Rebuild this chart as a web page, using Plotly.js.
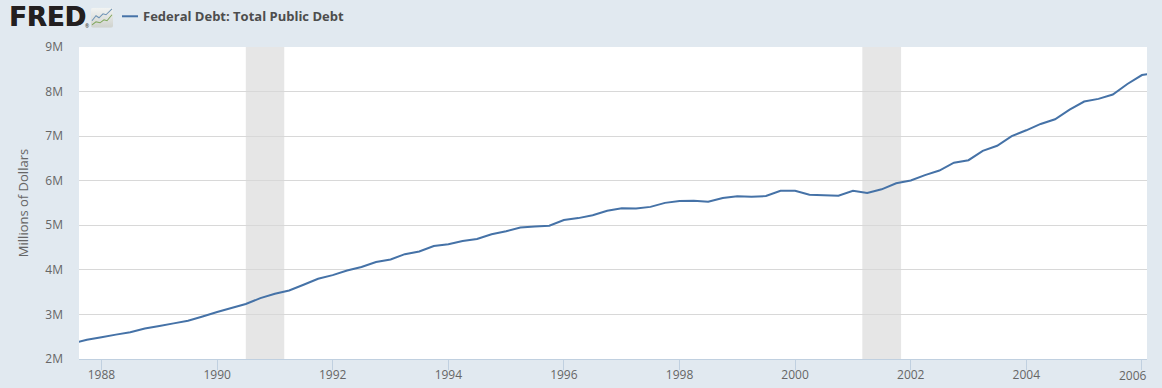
<!DOCTYPE html>
<html>
<head>
<meta charset="utf-8">
<script src="https://cdn.plot.ly/plotly-3.0.1.min.js"></script>
<style>html,body{margin:0;padding:0;background:#e1e9f0}#chart{width:1162px;height:388px}</style>
</head>
<body>
<div id="chart"></div>
<script>
const seriesName = 'Federal Debt: Total Public Debt';
const yAxisTitle = 'Millions of Dollars';
const quarters = ['1987-07-01','1987-10-01','1988-01-01','1988-04-01','1988-07-01','1988-10-01','1989-01-01','1989-04-01','1989-07-01','1989-10-01','1990-01-01','1990-04-01','1990-07-01','1990-10-01','1991-01-01','1991-04-01','1991-07-01','1991-10-01','1992-01-01','1992-04-01','1992-07-01','1992-10-01','1993-01-01','1993-04-01','1993-07-01','1993-10-01','1994-01-01','1994-04-01','1994-07-01','1994-10-01','1995-01-01','1995-04-01','1995-07-01','1995-10-01','1996-01-01','1996-04-01','1996-07-01','1996-10-01','1997-01-01','1997-04-01','1997-07-01','1997-10-01','1998-01-01','1998-04-01','1998-07-01','1998-10-01','1999-01-01','1999-04-01','1999-07-01','1999-10-01','2000-01-01','2000-04-01','2000-07-01','2000-10-01','2001-01-01','2001-04-01','2001-07-01','2001-10-01','2002-01-01','2002-04-01','2002-07-01','2002-10-01','2003-01-01','2003-04-01','2003-07-01','2003-10-01','2004-01-01','2004-04-01','2004-07-01','2004-10-01','2005-01-01','2005-04-01','2005-07-01','2005-10-01','2006-01-01','2006-04-01'];
const debt = [2350000,2431000,2487000,2547000,2602000,2684000,2740000,2799000,2857000,2953000,3053000,3143000,3233000,3365000,3465000,3538000,3665000,3801000,3881000,3984000,4065000,4177000,4231000,4352000,4412000,4536000,4576000,4646000,4693000,4800000,4865000,4951000,4974000,4989000,5118000,5161000,5225000,5324000,5381000,5376000,5413000,5503000,5543000,5548000,5526000,5614000,5652000,5639000,5656000,5776000,5773000,5686000,5675000,5662000,5774000,5727000,5807000,5943000,6006000,6126000,6228000,6405000,6460000,6670000,6783000,7001000,7131000,7274000,7379000,7596000,7777000,7836000,7933000,8170000,8371000,8420000];
const recessionStarts = ['1990-07-01','2001-03-01'];
const recessionEnds = ['1991-03-01','2001-11-01'];
const xTickVals = ['1988-01-01','1990-01-01','1992-01-01','1994-01-01','1996-01-01','1998-01-01','2000-01-01','2002-01-01','2004-01-01','2006-01-01'];
const xTickText = ['1988','1990','1992','1994','1996','1998','2000','2002','2004',''];
const lastTickLabel = '2006';
const yTickVals = [2e6,3e6,4e6,5e6,6e6,7e6,8e6,9e6];
const yTickText = ['2M','3M','4M','5M','6M','7M','8M','9M'];

const W = 1162, H = 388, L = 79, R = 1147, T = 47.2, B = 359;
const px = x => (x - L) / (R - L);
const py = y => (B - y) / (B - T);

const icon = 'data:image/svg+xml;utf8,' + encodeURIComponent(
 '<svg xmlns="http://www.w3.org/2000/svg" width="22" height="20" viewBox="0 0 22 20">' +
 '<defs><linearGradient id="g" x1="0" y1="0" x2="0" y2="1"><stop offset="0" stop-color="#f2f4f3"/><stop offset="1" stop-color="#cfd2cd"/></linearGradient></defs>' +
 '<rect width="22" height="20" rx="2" fill="url(#g)"/>' +
 '<polyline points="1,13 5,8 8,10 12,6 15,7 21,1" fill="none" stroke="#6e93b5" stroke-width="1"/>' +
 '<polyline points="1,17 5,14 9,15 13,12 16,13 21,7" fill="none" stroke="#7fa65a" stroke-width="1"/></svg>');

const recessionShapes = recessionStarts.map((s, i) => ({
  type: 'rect', xref: 'x', yref: 'paper', x0: s, x1: recessionEnds[i], y0: 0, y1: 1,
  fillcolor: '#e6e6e6', line: {width: 0}, layer: 'below'
}));

Plotly.newPlot('chart', [{
  x: quarters, y: debt, type: 'scatter', mode: 'lines', name: seriesName,
  line: {color: '#4572a7', width: 2, simplify: false}, showlegend: false
}], {
  width: W, height: H,
  paper_bgcolor: '#e1e9f0', plot_bgcolor: 'rgba(255,255,255,0)',
  margin: {l: L, r: W - R, t: T, b: H - B, pad: 0},
  font: {family: '"Open Sans", sans-serif', size: 12, color: '#666666'},
  showlegend: false,
  xaxis: {
    type: 'date', range: ['1987-08-12', '2006-02-02'], tickmode: 'array',
    tickvals: xTickVals, ticktext: xTickText, ticks: 'outside', ticklen: 10, tickwidth: 1,
    tickcolor: '#c0d0e0', showline: true, linecolor: '#c0d0e0', linewidth: 1,
    showgrid: false, zeroline: false, ticklabelstandoff: -5, tickfont: {size: 12, color: '#666666'}, fixedrange: true
  },
  yaxis: {
    range: [2e6, 9e6], tickmode: 'array', tickvals: yTickVals, ticktext: yTickText,
    ticks: '', showline: false, gridcolor: '#d8d8d8', gridwidth: 1, zeroline: false,
    ticklabelstandoff: 15, tickfont: {size: 12, color: '#666666'}, fixedrange: true,
    title: {text: yAxisTitle, standoff: 13, font: {size: 13, color: '#666666'}}
  },
  shapes: [
    {type: 'rect', xref: 'paper', yref: 'paper', x0: 0, x1: 1, y0: 0, y1: 1, fillcolor: '#ffffff', line: {width: 0}, layer: 'below'},
    ...recessionShapes,
    {type: 'line', xref: 'paper', yref: 'paper', x0: px(122), x1: px(138), y0: py(16.5), y1: py(16.5), line: {color: '#4572a7', width: 2}}
  ],
  images: [{source: icon, xref: 'paper', yref: 'paper', x: px(91), y: py(8), sizex: 22 / (R - L), sizey: 20 / (B - T), sizing: 'stretch', xanchor: 'left', yanchor: 'top', layer: 'above'}],
  annotations: [
    {text: 'FRED', xref: 'paper', yref: 'paper', x: px(6.5), y: py(17.5), xanchor: 'left', yanchor: 'middle', showarrow: false, font: {family: '"DejaVu Sans", sans-serif', size: 26, weight: 700, color: '#231f20', shadow: '0.4px 0 0 #231f20'}},
    {text: '®', xref: 'paper', yref: 'paper', x: px(83), y: py(26), xanchor: 'left', yanchor: 'middle', showarrow: false, font: {size: 5, color: '#231f20'}},
    {text: seriesName, xref: 'paper', yref: 'paper', x: px(141), y: py(16.5), xanchor: 'left', yanchor: 'middle', showarrow: false, font: {family: '"Open Sans", sans-serif', size: 13, weight: 700, color: '#4d4d4d'}},
    {text: lastTickLabel, xref: 'paper', yref: 'paper', x: px(1133), y: py(375), xanchor: 'center', yanchor: 'middle', showarrow: false, font: {size: 12, color: '#666666'}}
  ]
}, {displayModeBar: false, staticPlot: true});
</script>
</body>
</html>
